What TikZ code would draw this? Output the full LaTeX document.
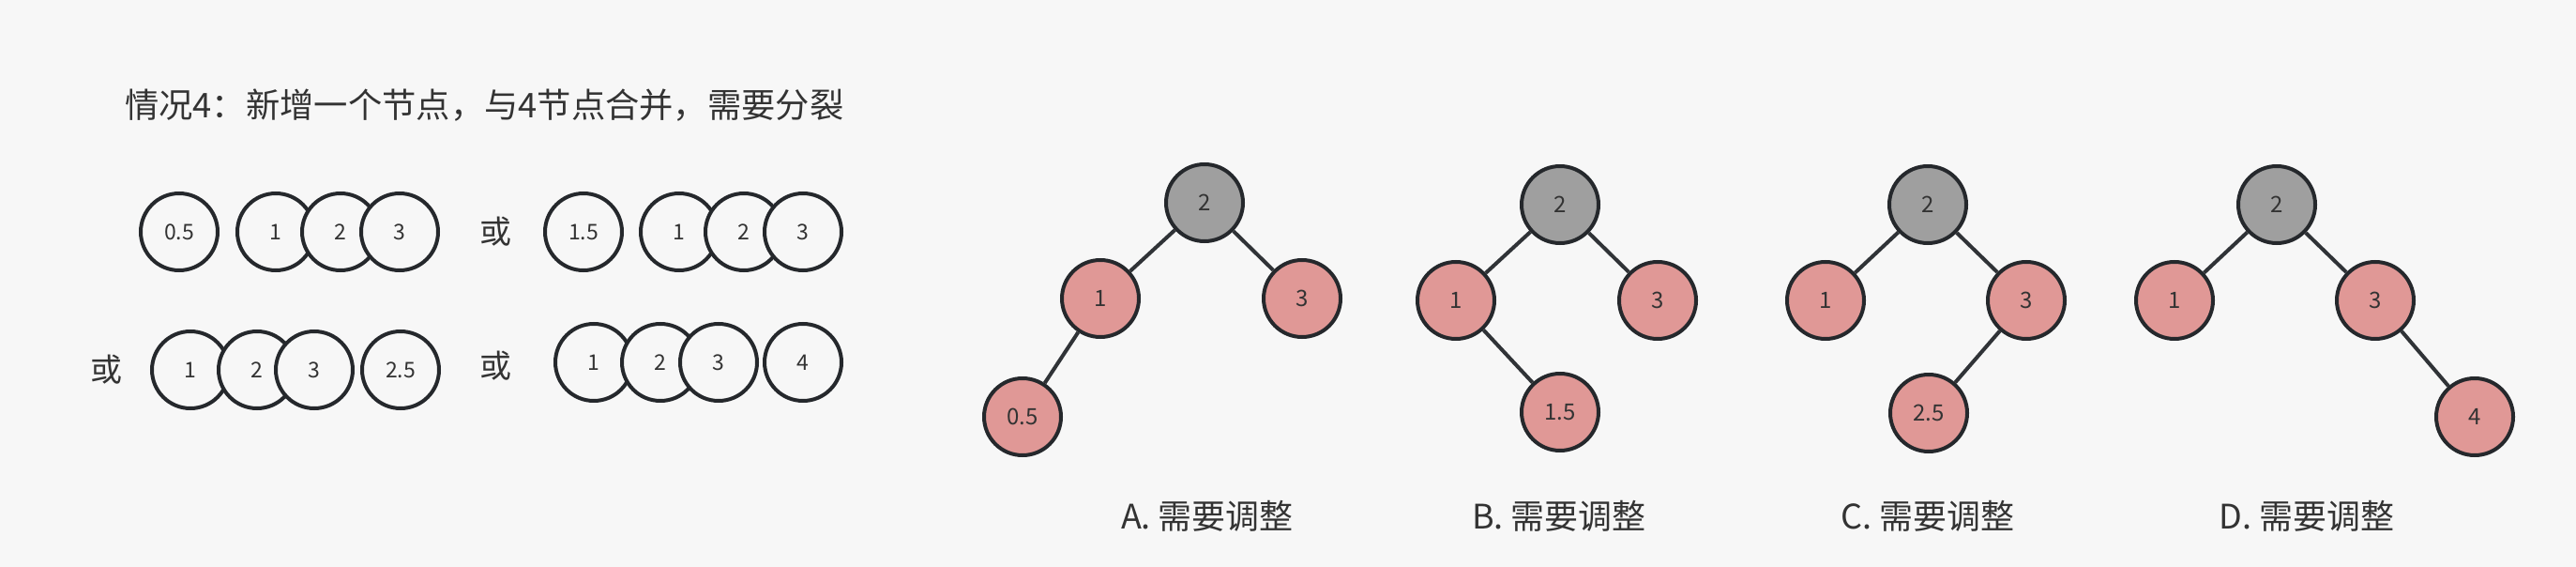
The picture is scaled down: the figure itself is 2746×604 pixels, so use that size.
\documentclass[tikz,border=0pt]{standalone}
\usepackage{fontspec}
\setmainfont{Noto Sans CJK SC}
\definecolor{bgc}{HTML}{F7F7F7}
\definecolor{linec}{HTML}{25282C}
\definecolor{grayc}{HTML}{9F9F9F}
\definecolor{pinkc}{HTML}{E09896}
\definecolor{txtc}{HTML}{333333}
\tikzset{
  ring/.style={circle, draw=linec, line width=4pt, fill=bgc, minimum size=82pt, inner sep=0pt, text=txtc, font=\fontsize{23}{23}\selectfont},
  gnode/.style={ring, fill=grayc, font=\fontsize{24}{24}\selectfont},
  pnode/.style={ring, fill=pinkc, font=\fontsize{24}{24}\selectfont},
  link/.style={draw=linec!95, line width=4pt},
  lbl/.style={inner sep=0pt, text=txtc, font=\fontsize{36}{36}\selectfont},
  ttl/.style={inner sep=0pt, text=txtc, font=\fontsize{36.3}{36.3}\selectfont},
  orlbl/.style={inner sep=0pt, text=txtc, font=\fontsize{34}{34}\selectfont},
}
\begin{document}
\begin{tikzpicture}[x=1pt,y=-1pt]
\fill[bgc] (0,0) rectangle (2746,604);
\useasboundingbox (0,0) rectangle (2746,604);
% title
\node[ttl, anchor=west] (title) at (133,112) {情况4：新增一个节点，与4节点合并，需要分裂};
% row 1 left
\node[ring] (r1a) at (191,247) {0.5};
\node[ring] (r1b) at (294,247) {1};
\node[ring] (r1c) at (363,247) {2};
\node[ring] (r1d) at (426,247) {3};
\node[orlbl] (or1) at (528,247) {或};
\node[ring] (r1e) at (622,247) {1.5};
\node[ring] (r1f) at (724,247) {1};
\node[ring] (r1g) at (793,247) {2};
\node[ring] (r1h) at (856,247) {3};
% row 2 left
\node[orlbl] (or2) at (113,394) {或};
\node[ring] (r2a) at (203,394) {1};
\node[ring] (r2b) at (274,394) {2};
\node[ring] (r2c) at (335,394) {3};
\node[ring] (r2d) at (427,394) {2.5};
\node[orlbl] (or3) at (528,390) {或};
\node[ring] (r2e) at (633,386) {1};
\node[ring] (r2f) at (704,386) {2};
\node[ring] (r2g) at (766,386) {3};
\node[ring] (r2h) at (856,386) {4};
% tree A
\node[gnode] (a2) at (1284,216) {2};
\node[pnode] (a1) at (1173,318) {1};
\node[pnode] (a3) at (1388,318) {3};
\node[pnode] (a05) at (1090,444) {0.5};
\draw[link] (a2) -- (a1);
\draw[link] (a2) -- (a3);
\draw[link] (a1) -- (a05);
\node[lbl] (la) at (1287,550) {A. 需要调整};
% tree B
\node[gnode] (b2) at (1663,218) {2};
\node[pnode] (b1) at (1552,320) {1};
\node[pnode] (b3) at (1767,320) {3};
\node[pnode] (b15) at (1663,439) {1.5};
\draw[link] (b2) -- (b1);
\draw[link] (b2) -- (b3);
\draw[link] (b1) -- (b15);
\node[lbl] (lb) at (1662,550) {B. 需要调整};
% tree C
\node[gnode] (c2) at (2055,218) {2};
\node[pnode] (c1) at (1946,320) {1};
\node[pnode] (c3) at (2160,320) {3};
\node[pnode] (c25) at (2056,440) {2.5};
\draw[link] (c2) -- (c1);
\draw[link] (c2) -- (c3);
\draw[link] (c3) -- (c25);
\node[lbl] (lc) at (2055,550) {C. 需要调整};
% tree D
\node[gnode] (d2) at (2427,218) {2};
\node[pnode] (d1) at (2318,320) {1};
\node[pnode] (d3) at (2532,320) {3};
\node[pnode] (d4) at (2638,444) {4};
\draw[link] (d2) -- (d1);
\draw[link] (d2) -- (d3);
\draw[link] (d3) -- (d4);
\node[lbl] (ld) at (2459,550) {D. 需要调整};
\end{tikzpicture}
\end{document}
